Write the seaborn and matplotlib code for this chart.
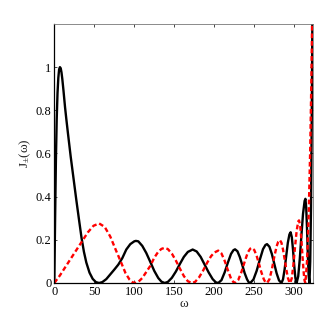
import matplotlib
matplotlib.use("Agg")
import matplotlib.pyplot as plt
import pandas as pd
import seaborn as sns


# Curva preta (J+)
omega_preto = [
    0, 1, 2, 3, 4, 5, 6, 7, 8, 9, 10, 11.5, 13.4, 15, 17, 20.5, 24, 27.5, 31, 34, 37, 40,
    44, 48, 52, 56,
    60, 65, 70, 75, 80, 85, 90, 95, 100, 102, 105, 110, 115, 120, 125, 130, 134, 138,
    142, 147, 152, 157, 162, 167, 173, 178, 183, 188, 193, 198, 202, 205,
    209, 213, 217, 221, 224, 226, 229, 232, 235, 238, 241, 243, 245,
    249, 253, 257, 261, 264, 266, 269, 272, 275, 278, 281, 284,
    286, 288, 290, 292, 294, 295.5, 297, 298.5, 300, 301.5, 303,
    305, 307, 309, 311, 313, 314, 315, 316, 317, 318, 319,
    320, 321, 322, 323, 324,
]
j_preto = [
    0, 0.3, 0.57, 0.76, 0.88, 0.95, 0.99, 1.0, 0.995, 0.975, 0.945, 0.89, 0.815, 0.76,
    0.695, 0.585, 0.485, 0.385, 0.29, 0.21, 0.145, 0.095, 0.048, 0.019, 0.004, 0,
    0.004, 0.018, 0.04, 0.062, 0.085, 0.115, 0.155, 0.18, 0.193, 0.195, 0.193, 0.172, 0.139,
    0.098, 0.056, 0.023, 0.006, 0,
    0.005, 0.024, 0.053, 0.088, 0.121, 0.144, 0.155, 0.146, 0.121, 0.085, 0.049, 0.018, 0.003, 0,
    0.013, 0.049, 0.094, 0.135, 0.152, 0.156, 0.147, 0.12, 0.084, 0.046, 0.017, 0.004, 0,
    0.016, 0.056, 0.108, 0.157, 0.176, 0.18, 0.168, 0.135, 0.09, 0.045, 0.012, 0,
    0.017, 0.063, 0.125, 0.186, 0.225, 0.235, 0.212, 0.154, 0.081, 0.022, 0,
    0.031, 0.113, 0.22, 0.32, 0.38, 0.39, 0.35, 0.253, 0.134, 0.037, 0,
    0.1, 0.35, 0.8, 1.4, 2.0,
]

# Curva vermelha tracejada (J-)
omega_vermelho = [
    0, 7, 14, 21, 28, 35, 42, 49, 56, 63, 70, 77, 83, 89, 94, 98, 101,
    105, 110, 115, 120, 125, 130, 134, 138, 142, 147, 152, 157, 162, 167, 172,
    176, 181, 186, 191, 196, 200, 205, 209, 213, 217, 221, 224, 226,
    230, 234, 238, 242, 245, 247, 250, 253, 256, 259, 262, 264, 266,
    269, 272, 275, 278, 280, 282, 284, 286, 288, 290, 292, 294, 295,
    297, 299, 301, 303, 305, 306, 307.5, 309, 310.5, 312, 313, 314,
    316, 318, 320, 321.5, 323, 324,
]
j_vermelho = [
    0, 0.035, 0.075, 0.115, 0.155, 0.195, 0.235, 0.265, 0.276, 0.26, 0.215, 0.152, 0.1,
    0.046, 0.016, 0.003, 0,
    0.005, 0.023, 0.051, 0.079, 0.117, 0.145, 0.158, 0.163, 0.157, 0.136, 0.104, 0.067,
    0.032, 0.008, 0,
    0.005, 0.026, 0.057, 0.093, 0.124, 0.141, 0.15, 0.137, 0.103, 0.06, 0.02, 0.004, 0,
    0.014, 0.051, 0.098, 0.142, 0.159, 0.163, 0.153, 0.126, 0.088, 0.049, 0.017, 0.004, 0,
    0.017, 0.062, 0.12, 0.17, 0.191, 0.199, 0.187, 0.155, 0.111, 0.065, 0.025, 0.003, 0,
    0.023, 0.085, 0.166, 0.24, 0.285, 0.29, 0.265, 0.2, 0.115, 0.042, 0.01, 0,
    0.1, 0.3, 0.62, 0.95, 1.4, 2.0,
]

xticks = [0, 50, 100, 150, 200, 250, 300]
yticks = [0, 0.2, 0.4, 0.6, 0.8, 1.0]
yticklabels = ["0", "0.2", "0.4", "0.6", "0.8", "1"]


def main():
    sns.set_theme(style="ticks")
    plt.rcParams["font.family"] = ["Liberation Serif", "DejaVu Serif"]
    plt.rcParams["mathtext.fontset"] = "custom"
    plt.rcParams["mathtext.rm"] = "Liberation Serif"
    plt.rcParams["mathtext.it"] = "Liberation Serif"

    preto = pd.DataFrame({"omega": omega_preto, "J": j_preto})
    vermelho = pd.DataFrame({"omega": omega_vermelho, "J": j_vermelho})

    fig = plt.figure(figsize=(3.32, 3.19), dpi=100)
    ax = fig.add_axes([0.1636, 0.1129, 0.7804, 0.8119])

    sns.lineplot(data=preto, x="omega", y="J", color="black", linewidth=1.7,
                 sort=False, estimator=None, ax=ax)
    sns.lineplot(data=vermelho, x="omega", y="J", color="#ff0000", linewidth=1.7,
                 sort=False, estimator=None, ax=ax, dashes=False)
    ax.lines[-1].set_dashes((2.0, 1.2))

    ax.set_xlim(0, 324)
    ax.set_ylim(0, 1.2)
    ax.set_xticks(xticks)
    ax.set_yticks(yticks)
    ax.set_yticklabels(yticklabels)
    ax.tick_params(direction="in", top=True, right=True, length=2.5, width=0.5,
                   labelsize=9, pad=2, colors="black")
    ax.set_xlabel("ω", fontsize=9.5, labelpad=0)
    ax.set_ylabel(r"J$_{\pm}$(ω)", fontsize=9.5, labelpad=2)

    for lado in ["left", "bottom"]:
        ax.spines[lado].set_color("black")
        ax.spines[lado].set_linewidth(0.9)
    for lado in ["top", "right"]:
        ax.spines[lado].set_color("#777777")
        ax.spines[lado].set_linewidth(0.6)

    fig.savefig("out.png", dpi=100)
    plt.close(fig)


if __name__ == "__main__":
    main()
